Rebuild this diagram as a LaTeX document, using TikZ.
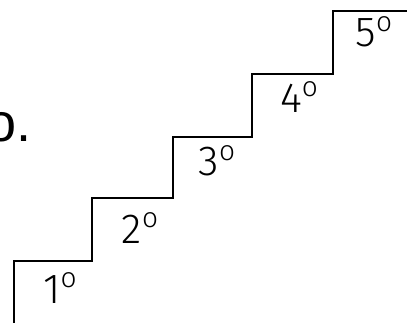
\documentclass[tikz,border=0pt]{standalone}
\usepackage{fontspec}
\newfontfamily\stairfont{Fira Sans Light}
\newfontfamily\wordfont{Liberation Sans}
\newcommand{\stepord}[1]{#1\raisebox{0.36em}{\fontsize{28}{28}\selectfont o}}

\begin{document}
\begin{tikzpicture}[x=1pt,y=-1pt,line width=2pt,
    steplabel/.style={inner sep=0pt,font=\stairfont\fontsize{42}{42}\selectfont}]
    \useasboundingbox (0,0) rectangle (407,323);
    % the stairs
    \draw (14,325) -- (14,261) -- (92,261) -- (92,198) -- (173,198) -- (173,137)
        -- (252,137) -- (252,74) -- (333,74) -- (333,11) -- (409,11);
    \node[steplabel] (s1) at (60,288) {\stepord{1}};
    \node[steplabel] (s2) at (140,228) {\stepord{2}};
    \node[steplabel] (s3) at (217,161) {\stepord{3}};
    \node[steplabel] (s4) at (299,97) {\stepord{4}};
    \node[steplabel] (s5) at (374,32) {\stepord{5}};
    % cut-off word at the left
    \node[inner sep=0pt,anchor=base east,font=\wordfont\fontsize{54}{54}\selectfont] (word) at (33,142) {o.};
\end{tikzpicture}
\end{document}
